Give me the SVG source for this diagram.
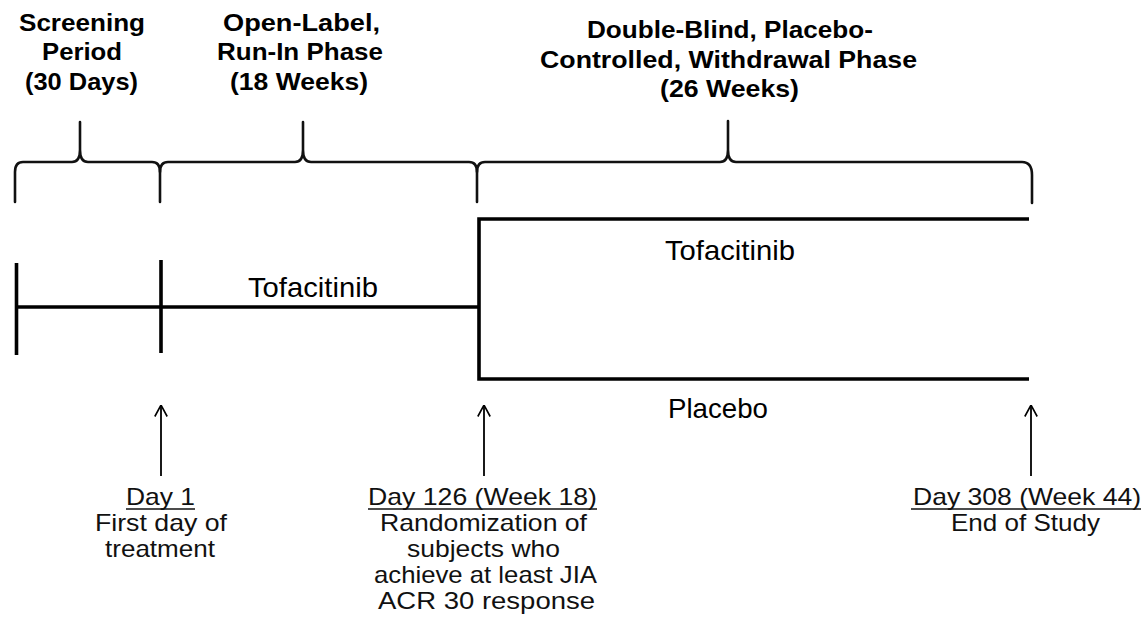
<svg xmlns="http://www.w3.org/2000/svg" width="1145" height="635" viewBox="0 0 1145 635">
<style>
  .title{font-family:"Liberation Sans",Arial,sans-serif;font-weight:bold;font-size:24px;fill:#000}
  .arm{font-family:"Liberation Sans",Arial,sans-serif;font-size:28px;fill:#000}
  .lbl{font-family:"Liberation Sans",Arial,sans-serif;font-size:24px;fill:#111}
  .brace{fill:none;stroke:#111;stroke-width:2.6;stroke-linecap:round;stroke-linejoin:round}
  .tl{fill:none;stroke:#000;stroke-width:3.6}
  .arrow{fill:none;stroke:#000;stroke-width:1.8}
  .ul{stroke:#111;stroke-width:1.5}
</style>
<defs>
  <marker id="openhead" viewBox="0 0 12 14" refX="11.5" refY="7" markerWidth="12" markerHeight="14" markerUnits="userSpaceOnUse" orient="auto">
    <path d="M0,0.8 L11.5,7 L0,13.2" fill="none" stroke="#000" stroke-width="1.6"/>
  </marker>
</defs>
<rect width="1145" height="635" fill="#fff"/>

<g id="title-screening">
  <text class="title" x="19" y="31" textLength="126" lengthAdjust="spacingAndGlyphs">Screening</text>
  <text class="title" x="42" y="60" textLength="80" lengthAdjust="spacingAndGlyphs">Period</text>
  <text class="title" x="25" y="90" textLength="113" lengthAdjust="spacingAndGlyphs">(30 Days)</text>
</g>
<g id="title-runin">
  <text class="title" x="223" y="31" textLength="157" lengthAdjust="spacingAndGlyphs">Open-Label,</text>
  <text class="title" x="217" y="60" textLength="166" lengthAdjust="spacingAndGlyphs">Run-In Phase</text>
  <text class="title" x="230" y="90" textLength="138" lengthAdjust="spacingAndGlyphs">(18 Weeks)</text>
</g>
<g id="title-withdrawal">
  <text class="title" x="587" y="38" textLength="286" lengthAdjust="spacingAndGlyphs">Double-Blind, Placebo-</text>
  <text class="title" x="540" y="68" textLength="377" lengthAdjust="spacingAndGlyphs">Controlled, Withdrawal Phase</text>
  <text class="title" x="660" y="97" textLength="139" lengthAdjust="spacingAndGlyphs">(26 Weeks)</text>
</g>

<g id="braces">
  <path class="brace" d="M15,202 V172 Q15,162 23,162 H72 Q80,162 80,150 V122 M80,150 Q80,162 88,162 H152 Q160,162 160,172 V202"/>
  <path class="brace" d="M160,172 Q160,162 168,162 H295 Q303,162 303,150 V122 M303,150 Q303,162 311,162 H469 Q477,162 477,172 V202"/>
  <path class="brace" d="M477,172 Q477,162 485,162 H720 Q728,162 728,150 V121 M728,150 Q728,162 736,162 H1022 Q1032,162 1032,175 V203"/>
</g>

<g id="timeline">
  <line class="tl" x1="16.5" y1="263" x2="16.5" y2="355"/>
  <line class="tl" x1="161" y1="260" x2="161" y2="353"/>
  <line class="tl" x1="16" y1="307" x2="479" y2="307"/>
  <path class="tl" d="M1029,219 H479 V379 H1029"/>
</g>

<g id="arm-openlabel">
  <text class="arm" x="248" y="297" textLength="130" lengthAdjust="spacingAndGlyphs">Tofacitinib</text>
</g>
<g id="arm-tofacitinib">
  <text class="arm" x="665" y="260" textLength="130" lengthAdjust="spacingAndGlyphs">Tofacitinib</text>
</g>
<g id="arm-placebo">
  <text class="arm" x="668" y="418" textLength="100" lengthAdjust="spacingAndGlyphs">Placebo</text>
</g>

<g id="connectors">
  <line class="arrow" x1="161" y1="476" x2="161" y2="405" marker-end="url(#openhead)"/>
  <line class="arrow" x1="484" y1="476" x2="484" y2="405" marker-end="url(#openhead)"/>
  <line class="arrow" x1="1031" y1="476" x2="1031" y2="405" marker-end="url(#openhead)"/>
</g>

<g id="milestone-day1">
  <text class="lbl" x="126" y="505" textLength="69" lengthAdjust="spacingAndGlyphs">Day 1</text>
  <line class="ul" x1="126" y1="509" x2="195" y2="509"/>
  <text class="lbl" x="95" y="531" textLength="132" lengthAdjust="spacingAndGlyphs">First day of</text>
  <text class="lbl" x="105" y="557" textLength="110" lengthAdjust="spacingAndGlyphs">treatment</text>
</g>
<g id="milestone-day126">
  <text class="lbl" x="368" y="505" textLength="229" lengthAdjust="spacingAndGlyphs">Day 126 (Week 18)</text>
  <line class="ul" x1="368" y1="509" x2="597" y2="509"/>
  <text class="lbl" x="380" y="531" textLength="207" lengthAdjust="spacingAndGlyphs">Randomization of</text>
  <text class="lbl" x="407" y="557" textLength="153" lengthAdjust="spacingAndGlyphs">subjects who</text>
  <text class="lbl" x="374" y="583" textLength="223" lengthAdjust="spacingAndGlyphs">achieve at least JIA</text>
  <text class="lbl" x="378" y="609" textLength="217" lengthAdjust="spacingAndGlyphs">ACR 30 response</text>
</g>
<g id="milestone-day308">
  <text class="lbl" x="913" y="505" textLength="228" lengthAdjust="spacingAndGlyphs">Day 308 (Week 44)</text>
  <line class="ul" x1="911" y1="509" x2="1141" y2="509"/>
  <text class="lbl" x="951" y="531" textLength="149" lengthAdjust="spacingAndGlyphs">End of Study</text>
</g>
</svg>
